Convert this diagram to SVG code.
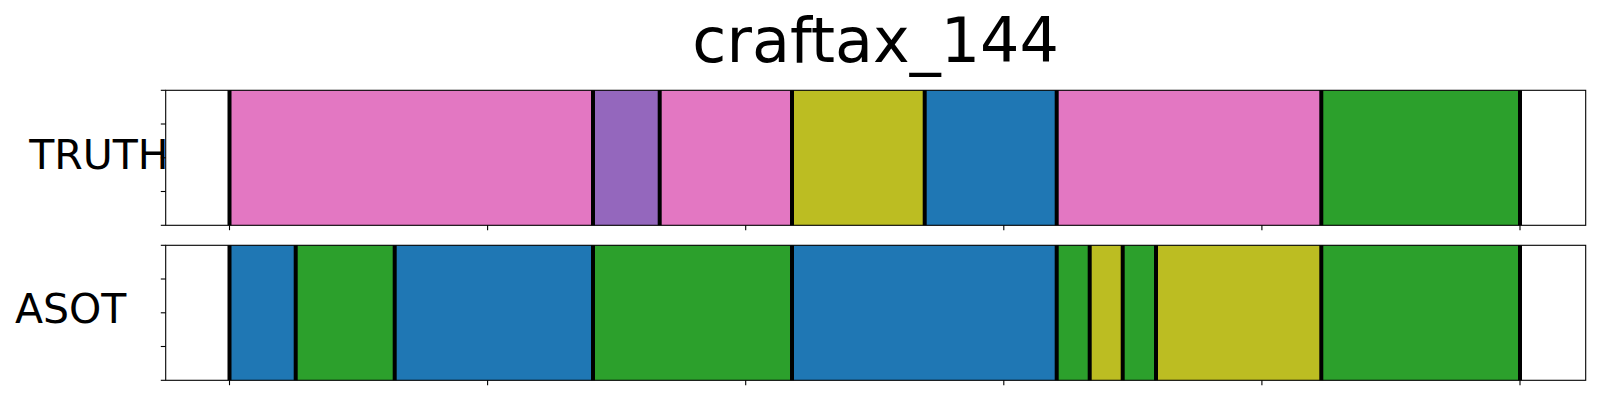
<svg xmlns="http://www.w3.org/2000/svg" width="1600" height="400" viewBox="0 0 1600 400">
<style>
text{font-family:"DejaVu Sans","Liberation Sans",sans-serif;fill:#000}
.pink{fill:#e377c2}.purple{fill:#9467bd}.olive{fill:#bcbd22}.blue{fill:#1f77b4}.green{fill:#2ca02c}
.b{stroke:#000;stroke-width:4}
.frame{fill:none;stroke:#000;stroke-width:1.1}
.tick{stroke:#000;stroke-width:1.1}
</style>
<rect width="1600" height="400" fill="#fff"/>
<text x="875.7" y="61.7" font-size="62" text-anchor="middle">craftax_144</text>
<g id="truth">
<text x="29.2" y="169.3" font-size="41">TRUTH</text>
<rect class="pink" x="229.5" y="90.3" width="363.5" height="135"/>
<rect class="purple" x="593" y="90.3" width="66.7" height="135"/>
<rect class="pink" x="659.7" y="90.3" width="132.3" height="135"/>
<rect class="olive" x="792" y="90.3" width="132.7" height="135"/>
<rect class="blue" x="924.7" y="90.3" width="132" height="135"/>
<rect class="pink" x="1056.7" y="90.3" width="264.6" height="135"/>
<rect class="green" x="1321.3" y="90.3" width="198.7" height="135"/>
<g class="b">
<line x1="229.5" y1="90.3" x2="229.5" y2="225.3"/>
<line x1="593" y1="90.3" x2="593" y2="225.3"/>
<line x1="659.7" y1="90.3" x2="659.7" y2="225.3"/>
<line x1="792" y1="90.3" x2="792" y2="225.3"/>
<line x1="924.7" y1="90.3" x2="924.7" y2="225.3"/>
<line x1="1056.7" y1="90.3" x2="1056.7" y2="225.3"/>
<line x1="1321.3" y1="90.3" x2="1321.3" y2="225.3"/>
<line x1="1520" y1="90.3" x2="1520" y2="225.3"/>
</g>
<rect class="frame" x="165.7" y="90.3" width="1420" height="135"/>
<g class="tick">
<line x1="160.8" y1="90.3" x2="165.7" y2="90.3"/>
<line x1="160.8" y1="124" x2="165.7" y2="124"/>
<line x1="160.8" y1="157.8" x2="165.7" y2="157.8"/>
<line x1="160.8" y1="191.5" x2="165.7" y2="191.5"/>
<line x1="160.8" y1="225.3" x2="165.7" y2="225.3"/>
<line x1="229.5" y1="225.3" x2="229.5" y2="230.2"/>
<line x1="487.6" y1="225.3" x2="487.6" y2="230.2"/>
<line x1="745.7" y1="225.3" x2="745.7" y2="230.2"/>
<line x1="1003.8" y1="225.3" x2="1003.8" y2="230.2"/>
<line x1="1261.9" y1="225.3" x2="1261.9" y2="230.2"/>
<line x1="1520" y1="225.3" x2="1520" y2="230.2"/>
</g>
</g>
<g id="asot">
<text x="15" y="323" font-size="41">ASOT</text>
<rect class="blue" x="229.5" y="245.3" width="66.2" height="135"/>
<rect class="green" x="295.7" y="245.3" width="99" height="135"/>
<rect class="blue" x="394.7" y="245.3" width="198.3" height="135"/>
<rect class="green" x="593" y="245.3" width="199" height="135"/>
<rect class="blue" x="792" y="245.3" width="264.7" height="135"/>
<rect class="green" x="1056.7" y="245.3" width="33" height="135"/>
<rect class="olive" x="1089.7" y="245.3" width="33" height="135"/>
<rect class="green" x="1122.7" y="245.3" width="33.3" height="135"/>
<rect class="olive" x="1156" y="245.3" width="165.3" height="135"/>
<rect class="green" x="1321.3" y="245.3" width="198.7" height="135"/>
<g class="b">
<line x1="229.5" y1="245.3" x2="229.5" y2="380.3"/>
<line x1="295.7" y1="245.3" x2="295.7" y2="380.3"/>
<line x1="394.7" y1="245.3" x2="394.7" y2="380.3"/>
<line x1="593" y1="245.3" x2="593" y2="380.3"/>
<line x1="792" y1="245.3" x2="792" y2="380.3"/>
<line x1="1056.7" y1="245.3" x2="1056.7" y2="380.3"/>
<line x1="1089.7" y1="245.3" x2="1089.7" y2="380.3"/>
<line x1="1122.7" y1="245.3" x2="1122.7" y2="380.3"/>
<line x1="1156" y1="245.3" x2="1156" y2="380.3"/>
<line x1="1321.3" y1="245.3" x2="1321.3" y2="380.3"/>
<line x1="1520" y1="245.3" x2="1520" y2="380.3"/>
</g>
<rect class="frame" x="165.7" y="245.3" width="1420" height="135"/>
<g class="tick">
<line x1="160.8" y1="245.3" x2="165.7" y2="245.3"/>
<line x1="160.8" y1="279" x2="165.7" y2="279"/>
<line x1="160.8" y1="312.8" x2="165.7" y2="312.8"/>
<line x1="160.8" y1="346.5" x2="165.7" y2="346.5"/>
<line x1="160.8" y1="380.3" x2="165.7" y2="380.3"/>
<line x1="229.5" y1="380.3" x2="229.5" y2="385.2"/>
<line x1="487.6" y1="380.3" x2="487.6" y2="385.2"/>
<line x1="745.7" y1="380.3" x2="745.7" y2="385.2"/>
<line x1="1003.8" y1="380.3" x2="1003.8" y2="385.2"/>
<line x1="1261.9" y1="380.3" x2="1261.9" y2="385.2"/>
<line x1="1520" y1="380.3" x2="1520" y2="385.2"/>
</g>
</g>
</svg>
